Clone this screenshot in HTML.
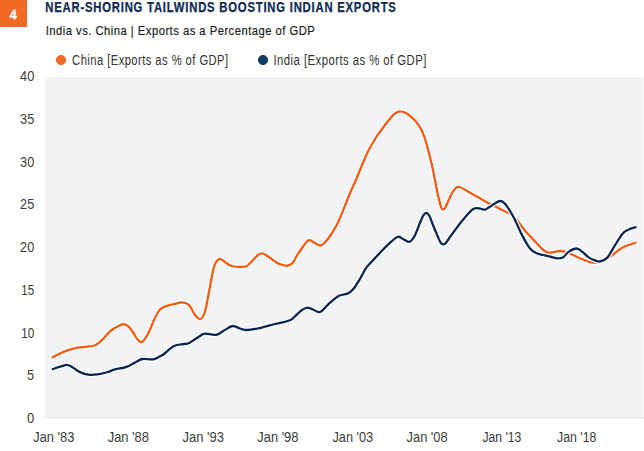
<!DOCTYPE html>
<html><head><meta charset="utf-8"><style>
html,body{margin:0;padding:0;background:#fff;width:644px;height:451px;overflow:hidden}
svg{display:block}
text{font-family:"Liberation Sans",sans-serif}
.ax{font-size:14px;fill:#3c3c3c}
.ay{font-size:14.5px;fill:#3c3c3c}
.lg{font-size:14px;fill:#333;letter-spacing:0.55px}
</style></head><body>
<svg width="644" height="451" viewBox="0 0 644 451">
<rect x="0" y="0" width="27" height="27" fill="#F26B26"/>
<text x="13.2" y="18.9" text-anchor="middle" font-size="12.6" font-weight="bold" fill="#fff" stroke="#fff" stroke-width="0.3">4</text>
<text x="45.3" y="12.1" font-size="13.8" font-weight="bold" letter-spacing="0.95" fill="#0E2A52" stroke="#0E2A52" stroke-width="0.25" textLength="351.4" lengthAdjust="spacingAndGlyphs">NEAR-SHORING TAILWINDS BOOSTING INDIAN EXPORTS</text>
<text x="45.7" y="34.6" class="lg" style="font-size:13.6px;stroke-width:0.22;fill:#1e1e1e;stroke:#1e1e1e;letter-spacing:0.6px" textLength="269.6" lengthAdjust="spacingAndGlyphs">India vs. China | Exports as a Percentage of GDP</text>
<circle cx="61" cy="60" r="4.6" fill="#F26B26" stroke="#F2570F" stroke-width="0.8"/>
<text x="72.1" y="64.5" class="lg" textLength="156.5" lengthAdjust="spacingAndGlyphs">China [Exports as % of GDP]</text>
<circle cx="263" cy="60" r="4.6" fill="#123E6A" stroke="#0A2550" stroke-width="0.9"/>
<text x="273.5" y="64.5" class="lg" textLength="153.3" lengthAdjust="spacingAndGlyphs">India [Exports as % of GDP]</text>
<rect x="45" y="77" width="598" height="341" fill="#F2F3F5"/><rect x="643" y="77" width="1" height="341" fill="#F7F8F9"/>
<rect x="45" y="417" width="599" height="1" fill="#E3E4E7"/>
<text x="34.3" y="422.9" text-anchor="end" class="ay" textLength="7.2" lengthAdjust="spacingAndGlyphs">0</text>
<text x="34.3" y="380.2" text-anchor="end" class="ay" textLength="7.2" lengthAdjust="spacingAndGlyphs">5</text>
<text x="34.3" y="337.5" text-anchor="end" class="ay" textLength="13.0" lengthAdjust="spacingAndGlyphs">10</text>
<text x="34.3" y="294.8" text-anchor="end" class="ay" textLength="13.0" lengthAdjust="spacingAndGlyphs">15</text>
<text x="34.3" y="252.1" text-anchor="end" class="ay" textLength="14.2" lengthAdjust="spacingAndGlyphs">20</text>
<text x="34.3" y="209.4" text-anchor="end" class="ay" textLength="14.2" lengthAdjust="spacingAndGlyphs">25</text>
<text x="34.3" y="166.7" text-anchor="end" class="ay" textLength="14.2" lengthAdjust="spacingAndGlyphs">30</text>
<text x="34.3" y="124.0" text-anchor="end" class="ay" textLength="14.2" lengthAdjust="spacingAndGlyphs">35</text>
<text x="34.3" y="81.3" text-anchor="end" class="ay" textLength="14.2" lengthAdjust="spacingAndGlyphs">40</text>

<text x="53.80" y="441.7" text-anchor="middle" class="ax" textLength="41.1" lengthAdjust="spacingAndGlyphs">Jan &#39;83</text>
<text x="128.30" y="441.7" text-anchor="middle" class="ax" textLength="41.1" lengthAdjust="spacingAndGlyphs">Jan &#39;88</text>
<text x="203.25" y="441.7" text-anchor="middle" class="ax" textLength="41.4" lengthAdjust="spacingAndGlyphs">Jan &#39;93</text>
<text x="277.90" y="441.7" text-anchor="middle" class="ax" textLength="41.1" lengthAdjust="spacingAndGlyphs">Jan &#39;98</text>
<text x="352.80" y="441.7" text-anchor="middle" class="ax" textLength="40.7" lengthAdjust="spacingAndGlyphs">Jan &#39;03</text>
<text x="427.10" y="441.7" text-anchor="middle" class="ax" textLength="41.1" lengthAdjust="spacingAndGlyphs">Jan &#39;08</text>
<text x="501.90" y="441.7" text-anchor="middle" class="ax" textLength="38.9" lengthAdjust="spacingAndGlyphs">Jan &#39;13</text>
<text x="576.75" y="441.7" text-anchor="middle" class="ax" textLength="39.4" lengthAdjust="spacingAndGlyphs">Jan &#39;18</text>

<path d="M51.9,357.7 C53.8,356.7 59.8,353.5 63.5,351.9 C67.2,350.3 70.8,349.1 74.4,348.3 C78.0,347.5 82.1,347.2 85.2,346.8 C88.3,346.4 90.9,346.5 93.0,346.0 C95.1,345.5 95.9,344.9 97.6,343.7 C99.3,342.5 101.3,340.7 103.0,339.0 C104.7,337.3 106.4,335.0 107.7,333.6 C109.0,332.2 109.0,331.9 111.0,330.5 C113.0,329.1 117.3,326.6 119.5,325.5 C121.7,324.4 122.5,324.0 124.0,324.2 C125.5,324.4 127.3,325.6 128.5,326.5 C129.7,327.4 130.2,328.4 131.1,329.6 C132.0,330.9 132.9,332.4 134.0,334.0 C135.1,335.6 136.3,338.1 137.5,339.5 C138.7,340.9 139.8,342.2 141.0,342.2 C142.2,342.2 143.1,341.4 144.5,339.5 C145.9,337.6 148.1,333.8 149.7,330.5 C151.3,327.2 152.3,323.5 154.0,320.0 C155.7,316.5 157.7,311.9 160.0,309.5 C162.3,307.1 165.3,306.6 168.0,305.6 C170.7,304.6 173.7,304.1 176.0,303.6 C178.3,303.1 179.8,302.2 182.0,302.4 C184.2,302.6 186.8,302.9 189.0,305.0 C191.2,307.1 193.1,312.7 195.0,315.0 C196.9,317.3 198.8,319.6 200.5,319.0 C202.2,318.4 203.5,316.5 205.0,311.5 C206.5,306.5 208.1,296.2 209.6,288.8 C211.1,281.4 212.3,272.2 213.9,267.2 C215.5,262.2 217.5,259.7 219.4,258.9 C221.3,258.1 223.5,261.2 225.5,262.4 C227.5,263.6 228.4,265.3 231.6,266.0 C234.8,266.7 241.9,267.1 244.9,266.7 C247.9,266.3 247.8,265.1 249.3,263.8 C250.8,262.5 252.6,260.5 254.0,259.0 C255.4,257.5 256.7,255.9 258.0,255.0 C259.3,254.1 260.7,253.3 262.0,253.3 C263.3,253.3 264.7,254.2 266.0,255.0 C267.3,255.8 268.3,256.6 270.0,257.8 C271.7,259.0 274.2,261.1 276.0,262.2 C277.8,263.3 279.1,263.9 281.0,264.5 C282.9,265.1 285.7,265.9 287.6,265.7 C289.5,265.4 290.9,264.7 292.5,263.0 C294.1,261.3 295.3,258.2 297.0,255.5 C298.7,252.8 300.8,249.5 302.7,247.0 C304.6,244.5 306.6,241.1 308.5,240.3 C310.4,239.6 312.1,241.6 314.0,242.5 C315.9,243.4 318.4,245.6 320.2,245.6 C322.0,245.6 323.3,244.0 325.0,242.3 C326.7,240.6 328.3,238.6 330.4,235.5 C332.5,232.4 335.3,227.8 337.4,223.8 C339.4,219.8 340.6,216.4 342.7,211.4 C344.8,206.4 347.4,199.3 349.8,193.7 C352.2,188.1 354.7,182.8 356.9,177.7 C359.1,172.5 361.1,167.2 363.0,162.8 C364.9,158.4 365.8,155.7 368.0,151.5 C370.2,147.3 373.4,141.7 376.0,137.5 C378.6,133.3 381.5,129.8 383.9,126.5 C386.3,123.2 388.8,120.1 390.6,118.0 C392.4,115.9 393.0,114.9 394.6,113.8 C396.2,112.7 398.0,111.2 400.3,111.3 C402.6,111.4 405.4,112.3 408.4,114.5 C411.4,116.7 415.5,120.7 418.2,124.4 C420.9,128.1 422.1,130.1 424.3,136.6 C426.5,143.1 429.3,154.0 431.5,163.2 C433.7,172.4 435.7,184.6 437.3,191.9 C438.9,199.2 440.0,203.9 441.0,206.8 C442.0,209.7 442.5,209.3 443.3,209.3 C444.1,209.3 444.2,209.6 445.6,207.0 C447.0,204.4 449.9,197.1 451.5,194.0 C453.1,190.9 454.2,189.7 455.5,188.5 C456.8,187.3 457.1,186.4 459.3,187.0 C461.5,187.6 466.3,190.5 468.9,191.9 C471.5,193.3 472.9,194.4 474.8,195.5 C476.7,196.6 477.7,197.0 480.0,198.3 C482.3,199.6 486.0,201.9 488.7,203.3 C491.4,204.7 494.1,205.8 496.0,206.7 C497.9,207.6 497.7,207.8 500.0,209.0 C502.3,210.2 507.2,212.2 510.0,214.0 C512.8,215.8 514.7,217.4 517.0,220.0 C519.3,222.6 521.8,226.8 524.0,229.5 C526.2,232.2 527.9,233.7 530.0,236.0 C532.1,238.3 534.5,241.0 536.7,243.3 C538.9,245.6 541.3,248.4 543.3,250.0 C545.3,251.6 547.0,252.4 548.8,252.7 C550.6,253.0 552.1,252.3 554.0,252.0 C555.9,251.7 557.9,251.0 560.0,251.0 C562.1,251.0 563.6,251.2 566.6,252.2 C569.6,253.2 573.8,255.5 577.7,257.2 C581.6,258.9 587.0,261.2 590.0,262.1 C593.0,263.0 593.7,262.6 596.0,262.4 C598.3,262.2 601.1,262.4 604.0,261.0 C606.9,259.6 610.2,256.4 613.3,254.2 C616.4,252.0 620.0,249.1 622.6,247.6 C625.2,246.1 626.7,245.9 629.0,245.0 C631.3,244.1 635.2,242.8 636.5,242.3" fill="none" stroke="#fff" stroke-width="4.6" stroke-linejoin="round" stroke-linecap="butt"/>
<path d="M51.9,357.7 C53.8,356.7 59.8,353.5 63.5,351.9 C67.2,350.3 70.8,349.1 74.4,348.3 C78.0,347.5 82.1,347.2 85.2,346.8 C88.3,346.4 90.9,346.5 93.0,346.0 C95.1,345.5 95.9,344.9 97.6,343.7 C99.3,342.5 101.3,340.7 103.0,339.0 C104.7,337.3 106.4,335.0 107.7,333.6 C109.0,332.2 109.0,331.9 111.0,330.5 C113.0,329.1 117.3,326.6 119.5,325.5 C121.7,324.4 122.5,324.0 124.0,324.2 C125.5,324.4 127.3,325.6 128.5,326.5 C129.7,327.4 130.2,328.4 131.1,329.6 C132.0,330.9 132.9,332.4 134.0,334.0 C135.1,335.6 136.3,338.1 137.5,339.5 C138.7,340.9 139.8,342.2 141.0,342.2 C142.2,342.2 143.1,341.4 144.5,339.5 C145.9,337.6 148.1,333.8 149.7,330.5 C151.3,327.2 152.3,323.5 154.0,320.0 C155.7,316.5 157.7,311.9 160.0,309.5 C162.3,307.1 165.3,306.6 168.0,305.6 C170.7,304.6 173.7,304.1 176.0,303.6 C178.3,303.1 179.8,302.2 182.0,302.4 C184.2,302.6 186.8,302.9 189.0,305.0 C191.2,307.1 193.1,312.7 195.0,315.0 C196.9,317.3 198.8,319.6 200.5,319.0 C202.2,318.4 203.5,316.5 205.0,311.5 C206.5,306.5 208.1,296.2 209.6,288.8 C211.1,281.4 212.3,272.2 213.9,267.2 C215.5,262.2 217.5,259.7 219.4,258.9 C221.3,258.1 223.5,261.2 225.5,262.4 C227.5,263.6 228.4,265.3 231.6,266.0 C234.8,266.7 241.9,267.1 244.9,266.7 C247.9,266.3 247.8,265.1 249.3,263.8 C250.8,262.5 252.6,260.5 254.0,259.0 C255.4,257.5 256.7,255.9 258.0,255.0 C259.3,254.1 260.7,253.3 262.0,253.3 C263.3,253.3 264.7,254.2 266.0,255.0 C267.3,255.8 268.3,256.6 270.0,257.8 C271.7,259.0 274.2,261.1 276.0,262.2 C277.8,263.3 279.1,263.9 281.0,264.5 C282.9,265.1 285.7,265.9 287.6,265.7 C289.5,265.4 290.9,264.7 292.5,263.0 C294.1,261.3 295.3,258.2 297.0,255.5 C298.7,252.8 300.8,249.5 302.7,247.0 C304.6,244.5 306.6,241.1 308.5,240.3 C310.4,239.6 312.1,241.6 314.0,242.5 C315.9,243.4 318.4,245.6 320.2,245.6 C322.0,245.6 323.3,244.0 325.0,242.3 C326.7,240.6 328.3,238.6 330.4,235.5 C332.5,232.4 335.3,227.8 337.4,223.8 C339.4,219.8 340.6,216.4 342.7,211.4 C344.8,206.4 347.4,199.3 349.8,193.7 C352.2,188.1 354.7,182.8 356.9,177.7 C359.1,172.5 361.1,167.2 363.0,162.8 C364.9,158.4 365.8,155.7 368.0,151.5 C370.2,147.3 373.4,141.7 376.0,137.5 C378.6,133.3 381.5,129.8 383.9,126.5 C386.3,123.2 388.8,120.1 390.6,118.0 C392.4,115.9 393.0,114.9 394.6,113.8 C396.2,112.7 398.0,111.2 400.3,111.3 C402.6,111.4 405.4,112.3 408.4,114.5 C411.4,116.7 415.5,120.7 418.2,124.4 C420.9,128.1 422.1,130.1 424.3,136.6 C426.5,143.1 429.3,154.0 431.5,163.2 C433.7,172.4 435.7,184.6 437.3,191.9 C438.9,199.2 440.0,203.9 441.0,206.8 C442.0,209.7 442.5,209.3 443.3,209.3 C444.1,209.3 444.2,209.6 445.6,207.0 C447.0,204.4 449.9,197.1 451.5,194.0 C453.1,190.9 454.2,189.7 455.5,188.5 C456.8,187.3 457.1,186.4 459.3,187.0 C461.5,187.6 466.3,190.5 468.9,191.9 C471.5,193.3 472.9,194.4 474.8,195.5 C476.7,196.6 477.7,197.0 480.0,198.3 C482.3,199.6 486.0,201.9 488.7,203.3 C491.4,204.7 494.1,205.8 496.0,206.7 C497.9,207.6 497.7,207.8 500.0,209.0 C502.3,210.2 507.2,212.2 510.0,214.0 C512.8,215.8 514.7,217.4 517.0,220.0 C519.3,222.6 521.8,226.8 524.0,229.5 C526.2,232.2 527.9,233.7 530.0,236.0 C532.1,238.3 534.5,241.0 536.7,243.3 C538.9,245.6 541.3,248.4 543.3,250.0 C545.3,251.6 547.0,252.4 548.8,252.7 C550.6,253.0 552.1,252.3 554.0,252.0 C555.9,251.7 557.9,251.0 560.0,251.0 C562.1,251.0 563.6,251.2 566.6,252.2 C569.6,253.2 573.8,255.5 577.7,257.2 C581.6,258.9 587.0,261.2 590.0,262.1 C593.0,263.0 593.7,262.6 596.0,262.4 C598.3,262.2 601.1,262.4 604.0,261.0 C606.9,259.6 610.2,256.4 613.3,254.2 C616.4,252.0 620.0,249.1 622.6,247.6 C625.2,246.1 626.7,245.9 629.0,245.0 C631.3,244.1 635.2,242.8 636.5,242.3" fill="none" stroke="#F45B12" stroke-width="2.3" stroke-linejoin="round" stroke-linecap="butt"/>
<path d="M51.9,369.3 C53.6,368.8 59.5,366.9 62.0,366.2 C64.5,365.5 65.0,364.9 66.6,364.9 C68.1,364.9 69.2,365.3 71.3,366.4 C73.4,367.5 76.2,370.2 79.0,371.6 C81.8,373.0 85.2,374.2 88.3,374.7 C91.4,375.2 94.3,374.8 97.6,374.4 C100.9,373.9 105.2,372.8 108.0,372.0 C110.8,371.2 111.1,370.5 114.2,369.6 C117.3,368.8 123.0,368.2 126.6,366.9 C130.2,365.6 133.3,363.3 136.0,362.0 C138.7,360.7 139.7,359.4 142.6,359.0 C145.5,358.6 150.4,359.8 153.3,359.3 C156.2,358.9 158.2,357.2 160.0,356.3 C161.8,355.4 161.7,355.7 164.0,354.0 C166.3,352.3 170.7,347.7 174.0,346.0 C177.3,344.3 181.5,344.5 184.0,344.0 C186.5,343.5 186.3,344.3 189.0,343.0 C191.7,341.7 197.3,337.6 200.0,336.0 C202.7,334.4 202.3,333.9 205.0,333.7 C207.7,333.5 212.8,335.3 216.0,334.8 C219.2,334.3 221.2,332.0 224.0,330.5 C226.8,329.0 230.0,326.3 232.7,326.0 C235.4,325.7 237.6,327.8 240.0,328.5 C242.4,329.2 243.6,330.1 247.1,330.0 C250.6,329.9 256.2,328.8 260.9,327.8 C265.5,326.8 270.2,325.2 275.0,324.0 C279.8,322.8 286.2,321.9 289.9,320.3 C293.5,318.7 294.9,316.2 296.9,314.5 C298.9,312.8 300.3,311.1 302.0,310.0 C303.7,308.9 305.5,307.7 307.3,307.6 C309.1,307.5 310.9,308.8 313.0,309.5 C315.1,310.2 317.4,313.0 320.1,312.0 C322.8,311.0 325.9,306.3 329.0,303.6 C332.1,300.9 335.8,297.5 339.0,295.8 C342.2,294.1 345.6,294.5 348.0,293.4 C350.4,292.3 351.3,291.4 353.3,289.0 C355.3,286.6 357.9,282.3 360.0,278.8 C362.1,275.3 364.0,271.1 366.0,268.2 C368.0,265.3 369.7,263.9 372.0,261.3 C374.3,258.7 377.4,255.5 380.0,252.8 C382.6,250.2 384.4,248.0 387.3,245.4 C390.2,242.8 394.7,238.1 397.3,237.0 C399.9,235.9 401.0,238.2 403.0,239.0 C405.0,239.8 407.4,242.4 409.3,241.9 C411.2,241.4 412.9,239.0 414.6,236.0 C416.3,233.0 418.1,227.3 419.5,224.0 C420.9,220.7 421.9,217.9 423.0,216.0 C424.1,214.1 425.3,212.8 426.4,212.8 C427.5,212.8 428.4,214.0 429.5,216.0 C430.6,218.0 431.6,221.5 433.0,225.0 C434.4,228.5 436.8,234.1 438.0,237.0 C439.2,239.9 439.7,241.2 440.5,242.4 C441.3,243.6 442.2,244.2 443.0,244.4 C443.8,244.6 444.3,244.6 445.5,243.4 C446.7,242.2 447.2,240.8 450.0,237.0 C452.8,233.2 458.5,225.2 462.4,220.5 C466.3,215.8 470.1,210.9 473.2,209.0 C476.3,207.1 479.0,208.7 481.0,208.8 C483.0,208.9 483.4,210.0 485.0,209.6 C486.6,209.2 487.8,207.8 490.3,206.4 C492.8,205.0 497.4,201.2 500.0,201.0 C502.6,200.8 503.7,202.2 506.0,205.0 C508.3,207.8 511.3,213.0 514.0,218.0 C516.7,223.0 519.3,229.9 522.0,235.0 C524.7,240.1 527.5,245.4 530.0,248.5 C532.5,251.6 534.5,252.2 536.7,253.3 C538.9,254.4 540.9,254.4 543.3,255.0 C545.7,255.6 548.6,256.2 551.0,256.8 C553.4,257.4 555.7,258.2 557.7,258.3 C559.8,258.4 561.4,258.3 563.3,257.2 C565.1,256.1 566.6,253.0 568.8,251.6 C571.0,250.2 574.4,248.5 576.6,248.5 C578.8,248.5 580.4,250.3 582.1,251.6 C583.8,252.8 585.4,254.7 587.0,256.0 C588.6,257.3 589.8,258.4 592.0,259.3 C594.2,260.2 597.5,261.8 600.0,261.5 C602.5,261.2 604.9,260.2 607.3,257.6 C609.7,255.0 612.0,249.8 614.6,245.8 C617.2,241.8 620.2,236.6 622.6,233.8 C625.0,231.0 626.9,230.3 629.2,229.2 C631.5,228.1 635.3,227.4 636.5,227.0" fill="none" stroke="#fff" stroke-width="4.6" stroke-linejoin="round" stroke-linecap="butt"/>
<path d="M51.9,369.3 C53.6,368.8 59.5,366.9 62.0,366.2 C64.5,365.5 65.0,364.9 66.6,364.9 C68.1,364.9 69.2,365.3 71.3,366.4 C73.4,367.5 76.2,370.2 79.0,371.6 C81.8,373.0 85.2,374.2 88.3,374.7 C91.4,375.2 94.3,374.8 97.6,374.4 C100.9,373.9 105.2,372.8 108.0,372.0 C110.8,371.2 111.1,370.5 114.2,369.6 C117.3,368.8 123.0,368.2 126.6,366.9 C130.2,365.6 133.3,363.3 136.0,362.0 C138.7,360.7 139.7,359.4 142.6,359.0 C145.5,358.6 150.4,359.8 153.3,359.3 C156.2,358.9 158.2,357.2 160.0,356.3 C161.8,355.4 161.7,355.7 164.0,354.0 C166.3,352.3 170.7,347.7 174.0,346.0 C177.3,344.3 181.5,344.5 184.0,344.0 C186.5,343.5 186.3,344.3 189.0,343.0 C191.7,341.7 197.3,337.6 200.0,336.0 C202.7,334.4 202.3,333.9 205.0,333.7 C207.7,333.5 212.8,335.3 216.0,334.8 C219.2,334.3 221.2,332.0 224.0,330.5 C226.8,329.0 230.0,326.3 232.7,326.0 C235.4,325.7 237.6,327.8 240.0,328.5 C242.4,329.2 243.6,330.1 247.1,330.0 C250.6,329.9 256.2,328.8 260.9,327.8 C265.5,326.8 270.2,325.2 275.0,324.0 C279.8,322.8 286.2,321.9 289.9,320.3 C293.5,318.7 294.9,316.2 296.9,314.5 C298.9,312.8 300.3,311.1 302.0,310.0 C303.7,308.9 305.5,307.7 307.3,307.6 C309.1,307.5 310.9,308.8 313.0,309.5 C315.1,310.2 317.4,313.0 320.1,312.0 C322.8,311.0 325.9,306.3 329.0,303.6 C332.1,300.9 335.8,297.5 339.0,295.8 C342.2,294.1 345.6,294.5 348.0,293.4 C350.4,292.3 351.3,291.4 353.3,289.0 C355.3,286.6 357.9,282.3 360.0,278.8 C362.1,275.3 364.0,271.1 366.0,268.2 C368.0,265.3 369.7,263.9 372.0,261.3 C374.3,258.7 377.4,255.5 380.0,252.8 C382.6,250.2 384.4,248.0 387.3,245.4 C390.2,242.8 394.7,238.1 397.3,237.0 C399.9,235.9 401.0,238.2 403.0,239.0 C405.0,239.8 407.4,242.4 409.3,241.9 C411.2,241.4 412.9,239.0 414.6,236.0 C416.3,233.0 418.1,227.3 419.5,224.0 C420.9,220.7 421.9,217.9 423.0,216.0 C424.1,214.1 425.3,212.8 426.4,212.8 C427.5,212.8 428.4,214.0 429.5,216.0 C430.6,218.0 431.6,221.5 433.0,225.0 C434.4,228.5 436.8,234.1 438.0,237.0 C439.2,239.9 439.7,241.2 440.5,242.4 C441.3,243.6 442.2,244.2 443.0,244.4 C443.8,244.6 444.3,244.6 445.5,243.4 C446.7,242.2 447.2,240.8 450.0,237.0 C452.8,233.2 458.5,225.2 462.4,220.5 C466.3,215.8 470.1,210.9 473.2,209.0 C476.3,207.1 479.0,208.7 481.0,208.8 C483.0,208.9 483.4,210.0 485.0,209.6 C486.6,209.2 487.8,207.8 490.3,206.4 C492.8,205.0 497.4,201.2 500.0,201.0 C502.6,200.8 503.7,202.2 506.0,205.0 C508.3,207.8 511.3,213.0 514.0,218.0 C516.7,223.0 519.3,229.9 522.0,235.0 C524.7,240.1 527.5,245.4 530.0,248.5 C532.5,251.6 534.5,252.2 536.7,253.3 C538.9,254.4 540.9,254.4 543.3,255.0 C545.7,255.6 548.6,256.2 551.0,256.8 C553.4,257.4 555.7,258.2 557.7,258.3 C559.8,258.4 561.4,258.3 563.3,257.2 C565.1,256.1 566.6,253.0 568.8,251.6 C571.0,250.2 574.4,248.5 576.6,248.5 C578.8,248.5 580.4,250.3 582.1,251.6 C583.8,252.8 585.4,254.7 587.0,256.0 C588.6,257.3 589.8,258.4 592.0,259.3 C594.2,260.2 597.5,261.8 600.0,261.5 C602.5,261.2 604.9,260.2 607.3,257.6 C609.7,255.0 612.0,249.8 614.6,245.8 C617.2,241.8 620.2,236.6 622.6,233.8 C625.0,231.0 626.9,230.3 629.2,229.2 C631.5,228.1 635.3,227.4 636.5,227.0" fill="none" stroke="#0A2652" stroke-width="2.3" stroke-linejoin="round" stroke-linecap="butt"/>
</svg>
</body></html>
